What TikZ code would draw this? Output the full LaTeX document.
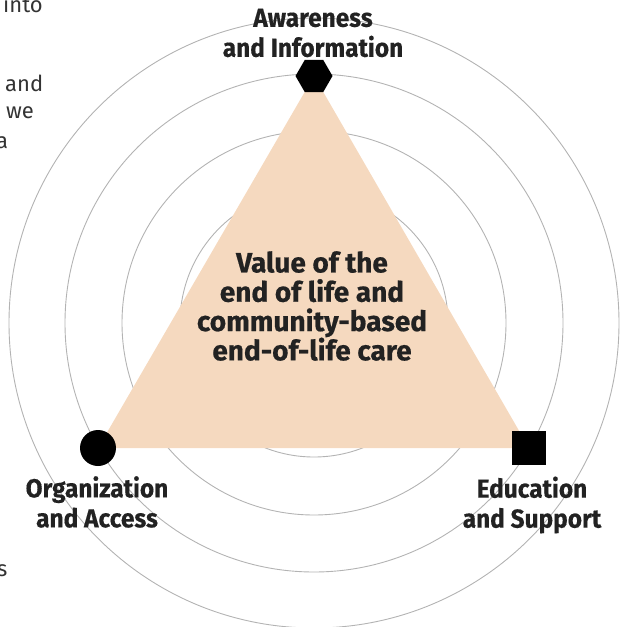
\documentclass[tikz,border=0pt]{standalone}
\usepackage{fontspec}
\setmainfont{Fira Sans}
\newfontfamily\labfont[FakeStretch=0.94, BoldFeatures={FakeBold=0.4}]{Fira Sans}
\newfontfamily\valfont[BoldFeatures={FakeBold=0.6}]{Fira Sans}
\usetikzlibrary{shapes.geometric}
\definecolor{peach}{HTML}{F5D9BF}
\definecolor{ringgray}{HTML}{B3B3B3}
\definecolor{ink}{HTML}{222222}
\definecolor{fragink}{HTML}{333333}
\tikzset{
  ringline/.style={draw=ringgray, line width=0.9pt},
  lab/.style={font=\labfont\bfseries\fontsize{26}{30}\selectfont, text=ink, align=center, inner sep=0pt},
  vallab/.style={font=\valfont\bfseries\fontsize{28}{29.3}\selectfont, text=ink, align=center, inner sep=0pt},
  frag/.style={font=\fontsize{22}{27}\selectfont, text=fragink, inner sep=0pt, anchor=base west},
  marker/.style={fill=black, draw=none, inner sep=0pt}
}
\begin{document}
\begin{tikzpicture}[x=1pt,y=-1pt]
\useasboundingbox (0,0) rectangle (623,627);
\coordinate (o) at (314,323);
\foreach \r in {134,192,249,305} \draw[ringline] (o) circle[radius=\r pt];
\coordinate (tA) at (314,76);
\coordinate (tB) at (98,448);
\coordinate (tC) at (529,448);
\fill[peach] (tA) -- (tB) -- (tC) -- cycle;
\node[marker, regular polygon, regular polygon sides=6, minimum size=37pt] (aw) at (tA) {};
\node[marker, circle, minimum size=36pt] (org) at (tB) {};
\node[marker, rectangle, minimum size=34pt] (edu) at (tC) {};
\node[lab] (awl) at (313,33) {Awareness\\and Information};
\node[lab] (orl) at (97,502) {Organization\\and Access};
\node[lab] (edl) at (532,505) {Education\\and Support};
\node[vallab] (val) at (312,306) {Value of the\\end of life and\\community-based\\end-of-life care};
\node[frag] (f1) at (3,12) {into};
\node[frag] (f2) at (5,91) {and};
\node[frag] (f3) at (6,118) {we};
\node[frag] (f4) at (-4,148) {a};
\node[frag] (f5) at (-3,576) {s};
\end{tikzpicture}
\end{document}
